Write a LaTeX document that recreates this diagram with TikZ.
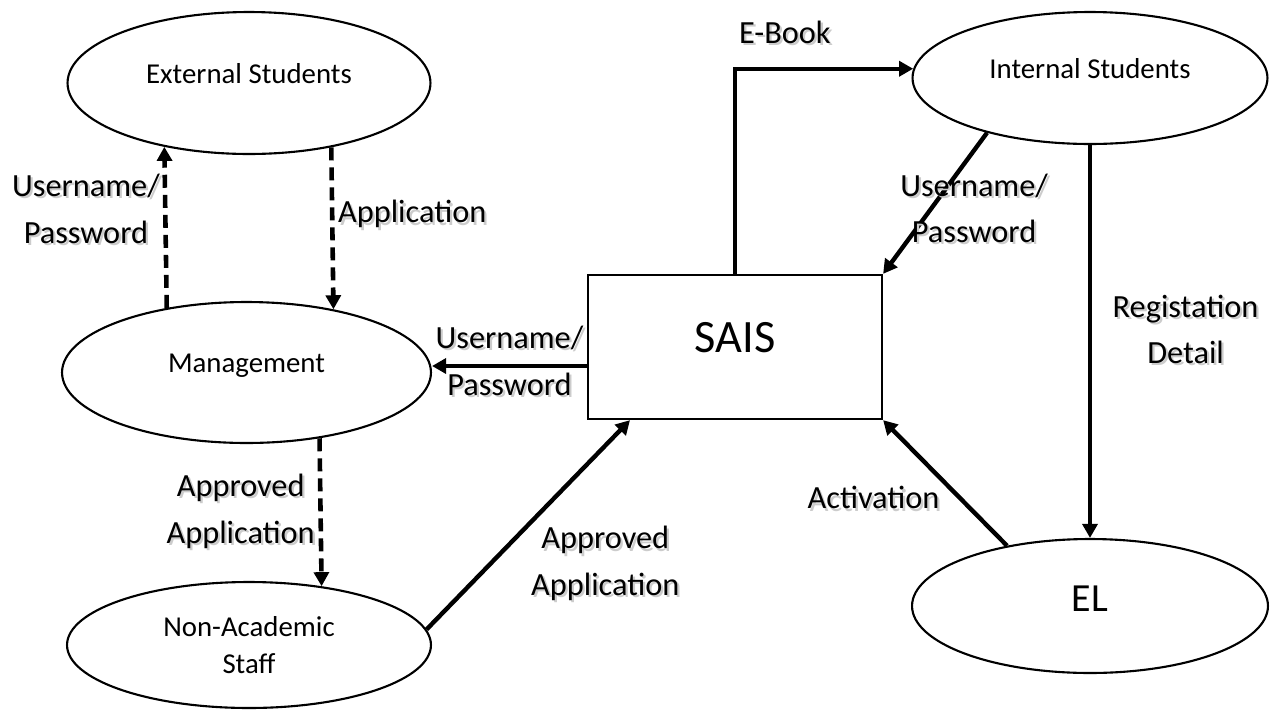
\documentclass[tikz,border=0pt]{standalone}
\usepackage{fontspec}
\setmainfont{Carlito}
\usepackage{xcolor}
\usepackage{tikz}
\usetikzlibrary{shapes.geometric}
\usetikzlibrary{arrows.meta}

% text with a soft grey shadow under it
\newcommand{\shd}[1]{\makebox[0pt][l]{\kern1.3pt\raisebox{-1.3pt}{\textcolor{black!20}{#1}}}#1}

\begin{document}
\begin{tikzpicture}[x=0.02cm, y=-0.02cm,
		ent/.style={ellipse, draw, line width=1.2pt, align=center, font=\fontsize{16.4}{20.5}\selectfont},
		proc/.style={rectangle, draw, line width=1.3pt, minimum width=5.88cm, minimum height=2.88cm, font=\fontsize{26.4}{30}\selectfont, text height=0.6cm, text depth=0.4cm},
		lbl/.style={font=\fontsize{18.4}{26.5}\selectfont, align=center, inner sep=2pt},
		arr/.style={line width=2.5pt},
		dsh/.style={line width=2.6pt, dash pattern=on 7.4pt off 4pt},
		>={Triangle[length=8pt, width=8.5pt]}]
			\useasboundingbox (0,0) rectangle (1272,711);
			% Nodes
			\node[ent, minimum width=7.26cm, minimum height=2.84cm, text height=0.4cm, text depth=0.4cm] (1) at (249,83) {External Students};
			\node[ent, minimum width=7.38cm, minimum height=2.82cm, text height=0.4cm, text depth=0.4cm] (2) at (246.5,372.5) {Management};
			\node[ent, minimum width=7.28cm, minimum height=2.52cm, font=\fontsize{16.4}{21.5}\selectfont] (3) at (249,645) {Non-Academic\\Staff};
			\node[proc] (4) at (735,347) {SAIS};
			\node[ent, minimum width=7.1cm, minimum height=2.64cm, text height=0.4cm, text depth=0.4cm] (5) at (1090,78) {Internal Students};
			\node[ent, minimum width=7.12cm, minimum height=2.68cm, font=\fontsize{22.7}{26}\selectfont, text height=0.6cm, text depth=0.4cm] (6) at (1090,606) {EL};
			% Dashed flows
			\draw[dsh, ->] (2.141.8) -- (1.217.2) node[lbl, midway, left, yshift=0.35cm] (7) {\shd{Username/}\\\shd{Password}};
			\draw[dsh, ->] (1.322.8) -- (2.36.2) node[lbl, midway, right, yshift=0.26cm] (8) {\shd{Application}};
			\draw[dsh, ->] (2.318.6) -- (3.39.2) node[lbl, midway, left] (9) {\shd{Approved}\\\shd{Application}};
			% Solid flows
			\draw[arr, ->] ([yshift=0.13cm]4.west |- 2.east) -- ([yshift=0.13cm]2.east) node[lbl, midway, yshift=0.08cm] (10) {\shd{Username/}\\\shd{Password}};
			\draw[arr, ->] (3.5) -- ([xshift=-2.1cm]4.south) node[lbl, midway, xshift=1.54cm, yshift=-0.8cm] (11) {\shd{Approved}\\\shd{Application}};
			\draw[arr, ->] (4.north) |- (5.177) node[lbl, pos=0.64, above=0.35cm] (12) {\shd{E-Book}};
			\draw[arr, ->] (5.208.8) -- (4.north east) node[lbl, midway, xshift=0.78cm, yshift=-0.12cm] (13) {\shd{Username/}\\\shd{Password}};
			\draw[arr, ->] (5.south) -- (6.north) node[lbl, midway, right, xshift=0.34cm, yshift=0.22cm] (14) {\shd{Registation}\\\shd{Detail}};
			\draw[arr, ->] (6.144.1) -- (4.south east) node[lbl, midway, left, yshift=-0.32cm] (15) {\shd{Activation}};
		\end{tikzpicture}
\end{document}
